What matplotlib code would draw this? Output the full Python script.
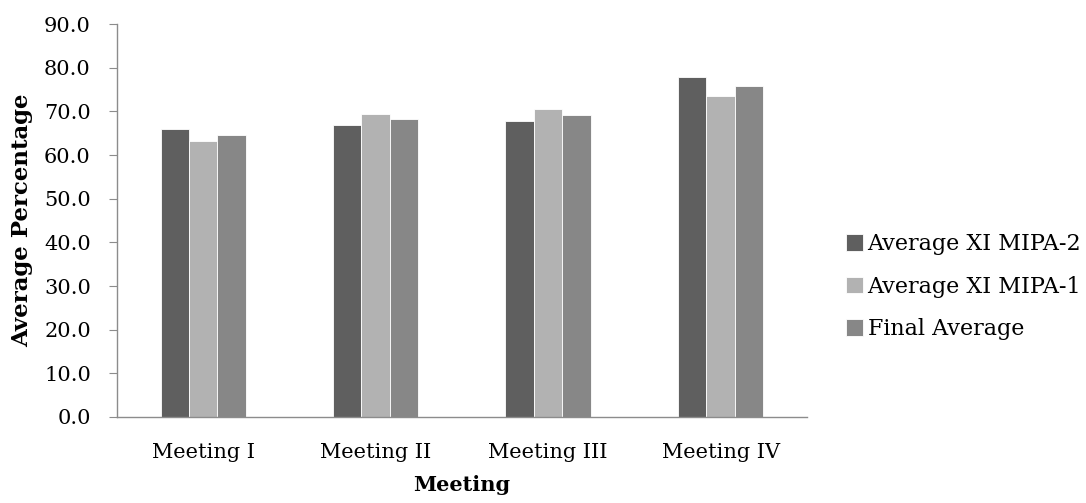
import numpy as np
import matplotlib
matplotlib.use("Agg")
from matplotlib import pyplot as plt
from matplotlib.ticker import FormatStrFormatter

meetings = ["Meeting I", "Meeting II", "Meeting III", "Meeting IV"]
series_names = ["Average XI MIPA-2", "Average XI MIPA-1", "Final Average"]
mipa2 = [65.9, 67.0, 67.8, 78.0]
mipa1 = [63.3, 69.4, 70.6, 73.5]
final_avg = [64.6, 68.2, 69.2, 75.8]
colors = ["#5f5f5f", "#b2b2b2", "#878787"]

plt.rcParams["font.family"] = ["DejaVu Serif"]

fig = plt.figure(figsize=(10.86, 5.03), dpi=100)
ax = fig.add_axes([0.1077, 0.171, 0.743 - 0.1077, 0.952 - 0.171])

x = np.arange(len(meetings))
w = 0.165
for i, (vals, name) in enumerate(zip([mipa2, mipa1, final_avg], series_names)):
    ax.bar(x + (i - 1) * w, vals, width=w, color=colors[i], label=name,
           edgecolor="white", linewidth=0.6)

ax.set_xlim(-0.5, 3.5)
ax.set_ylim(0, 90)
ax.set_yticks(np.arange(0, 91, 10))
ax.yaxis.set_major_formatter(FormatStrFormatter("%.1f"))
ax.set_xticks(x)
ax.set_xticklabels(meetings)

for s in ["top", "right"]:
    ax.spines[s].set_visible(False)
for s in ["left", "bottom"]:
    ax.spines[s].set_color("#8c8c8c")
    ax.spines[s].set_linewidth(1.0)
ax.tick_params(axis="y", direction="out", length=5.8, color="#8c8c8c", labelsize=15, pad=13)
ax.tick_params(axis="x", length=0, labelsize=15, pad=19)

ax.set_ylabel("Average Percentage", fontsize=16.5, fontweight="bold", labelpad=8)
ax.set_xlabel("Meeting", fontsize=15, fontweight="bold", labelpad=9)

fig.legend(loc="center left", bbox_to_anchor=(0.761, 0.43), frameon=False,
           fontsize=16, handlelength=0.75, handleheight=0.75, handletextpad=0.2,
           labelspacing=0.92)

plt.savefig("out.png", dpi=100)
